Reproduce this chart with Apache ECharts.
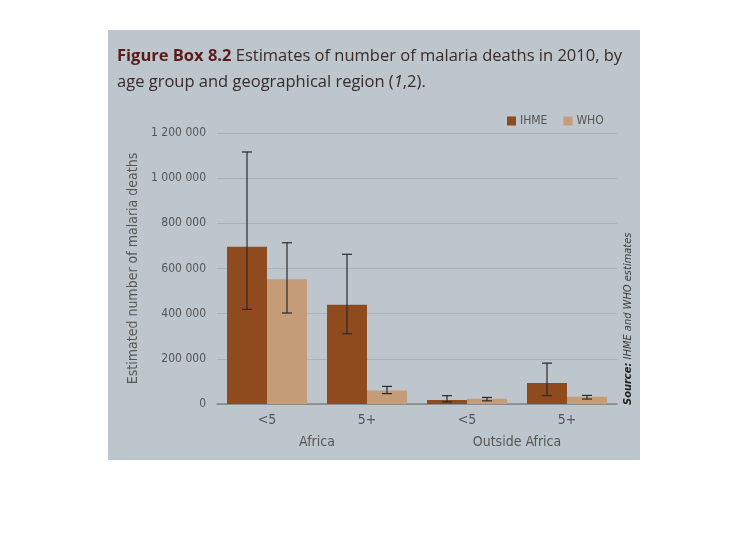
<!DOCTYPE html>
<html>
<head>
<meta charset="utf-8">
<script src="https://cdn.jsdelivr.net/npm/echarts@6/dist/echarts.min.js"></script>
<style>html,body{margin:0;padding:0;background:#fff}#c{width:748px;height:554px}</style>
</head>
<body>
<div id="c"></div>
<script>
var categories = ['<5', '5+', '<5', '5+'];
var regions = ['Africa', 'Outside Africa'];
var seriesNames = ['IHME', 'WHO'];
var ihmeValues = [696000, 440000, 18000, 93000];
var ihmeLow = [419000, 311000, 9000, 37000];
var ihmeHigh = [1116000, 663000, 37000, 181000];
var whoValues = [552000, 60000, 23000, 32000];
var whoLow = [403000, 46000, 14000, 22000];
var whoHigh = [714000, 78000, 29000, 38000];
var yTicks = [0, 200000, 400000, 600000, 800000, 1000000, 1200000];

var narrow = "'Liberation Sans Narrow', 'Arial Narrow', 'DejaVu Sans Condensed', sans-serif";
var colIHME = '#8f4a1d';
var colWHO = '#c59c78';

function errSeries(name, low, high, offsetSign) {
  var data = low.map(function (l, i) { return [i, l, high[i]]; });
  return {
    type: 'custom',
    name: name + ' range',
    z: 10,
    encode: { x: 0, y: [1, 2] },
    data: data,
    renderItem: function (params, api) {
      var lo = api.coord([api.value(0), api.value(1)]);
      var hi = api.coord([api.value(0), api.value(2)]);
      var bw = api.size([1, 0])[0] * 0.4;
      var x = lo[0] + offsetSign * bw / 2;
      var cap = 5;
      var st = { stroke: '#2a2a2a', lineWidth: 1.2 };
      return {
        type: 'group',
        children: [
          { type: 'line', shape: { x1: x, y1: hi[1], x2: x, y2: lo[1] }, style: st },
          { type: 'line', shape: { x1: x - cap, y1: hi[1], x2: x + cap, y2: hi[1] }, style: st },
          { type: 'line', shape: { x1: x - cap, y1: lo[1], x2: x + cap, y2: lo[1] }, style: st }
        ]
      };
    }
  };
}

var chart = echarts.init(document.getElementById('c'), null, { renderer: 'canvas' });
chart.setOption({
  backgroundColor: '#ffffff',
  animation: false,
  graphic: [
    { type: 'rect', z: -10, shape: { x: 108, y: 30, width: 532, height: 430 }, style: { fill: '#bcc6cc' } },
    {
      type: 'text', z: 10, x: 628, y: 405, rotation: Math.PI / 2,
      style: {
        text: '{b|Source:} IHME and WHO estimates',
        font: 'italic 11px ' + narrow,
        fill: '#3a3a3a',
        textAlign: 'left',
        textVerticalAlign: 'middle',
        rich: { b: { font: 'italic bold 11px ' + narrow, fill: '#222' } }
      }
    }
  ],
  title: {
    left: 112, top: 38,
    text: '{b|Figure Box 8.2} Estimates of number of malaria deaths in 2010, by\nage group and geographical region ({i|1},2).',
    textStyle: {
      fontFamily: "'Open Sans', sans-serif",
      fontSize: 16.5, fontWeight: 'normal', color: '#3a2a28', lineHeight: 26,
      rich: {
        b: { fontFamily: "'Open Sans', sans-serif", fontSize: 16.5, fontWeight: 'bold', color: '#5a1c1a', lineHeight: 26 },
        i: { fontFamily: "'Open Sans', sans-serif", fontSize: 16.5, fontStyle: 'italic', color: '#3a2a28', lineHeight: 26 }
      }
    }
  },
  legend: {
    left: 502, top: 110,
    itemWidth: 9, itemHeight: 9, itemGap: 16,
    icon: 'rect',
    data: seriesNames,
    textStyle: { fontFamily: narrow, fontSize: 12, color: '#555', padding: [0, 0, 0, -1] }
  },
  grid: { left: 217, right: 131, top: 133, bottom: 150, containLabel: false },
  xAxis: [
    {
      type: 'category', data: categories, position: 'bottom',
      axisLine: { show: true, lineStyle: { color: '#7d8286', width: 1.5 } },
      axisTick: { show: false },
      axisLabel: { fontFamily: narrow, fontSize: 14, color: '#555', margin: 9 }
    },
    {
      type: 'category', data: regions, position: 'bottom', offset: 22,
      axisLine: { show: false }, axisTick: { show: false },
      axisLabel: { fontFamily: narrow, fontSize: 14, color: '#555', margin: 9 }
    }
  ],
  yAxis: {
    type: 'value', min: 0, max: 1200000, interval: 200000,
    name: 'Estimated number of malaria deaths',
    nameLocation: 'middle', nameGap: 76, nameRotate: 90,
    nameTextStyle: { fontFamily: narrow, fontSize: 14, color: '#555' },
    axisLine: { show: false }, axisTick: { show: false },
    splitLine: { lineStyle: { color: '#aab2b7', width: 1 } },
    axisLabel: {
      fontFamily: narrow, fontSize: 12, color: '#555', margin: 11,
      formatter: function (v) { return String(v).replace(/\B(?=(\d{3})+(?!\d))/g, ' '); }
    }
  },
  series: [
    { type: 'bar', name: 'IHME', data: ihmeValues, barWidth: '40%', barGap: '0%', itemStyle: { color: colIHME } },
    { type: 'bar', name: 'WHO', data: whoValues, barWidth: '40%', barGap: '0%', itemStyle: { color: colWHO } },
    errSeries('IHME', ihmeLow, ihmeHigh, -1),
    errSeries('WHO', whoLow, whoHigh, 1)
  ]
});
</script>
</body>
</html>
